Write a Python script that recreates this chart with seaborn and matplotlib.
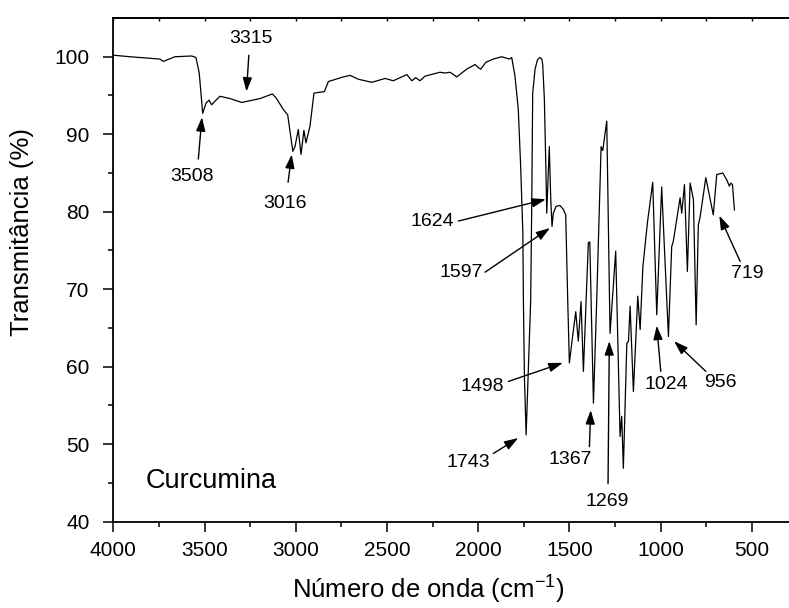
import numpy as np
import pandas as pd
import matplotlib
matplotlib.use("Agg")
import matplotlib.pyplot as plt
import seaborn as sns

# espectro FTIR da curcumina
numero_onda = [4000, 3908, 3744, 3726, 3662, 3570, 3547, 3529, 3510, 3492,
               3475, 3461, 3437, 3415, 3360, 3296, 3196, 3128, 3108, 3068,
               3044, 3016, 3004, 2986, 2971, 2955, 2944, 2922, 2900, 2876,
               2843, 2821, 2739, 2702, 2657, 2583, 2510, 2465, 2391, 2364,
               2342, 2319, 2291, 2209, 2181, 2154, 2117, 2063, 2017, 1999,
               1986, 1957, 1917, 1871, 1829, 1816, 1798, 1780, 1767, 1755,
               1752, 1746, 1737, 1712, 1706, 1701, 1688, 1675, 1661, 1651,
               1646, 1637, 1629, 1624, 1610, 1602, 1595, 1588, 1573, 1551,
               1533, 1520, 1509, 1500, 1487, 1465, 1451, 1436, 1423, 1396,
               1388, 1368, 1350, 1326, 1317, 1295, 1277, 1246, 1222, 1213,
               1204, 1185, 1176, 1167, 1149, 1125, 1112, 1097, 1072, 1043,
               1021, 994, 957, 939, 930, 893, 884, 869, 853, 838,
               820, 805, 793, 784, 752, 733, 711, 692, 659, 637,
               623, 615, 606, 595]
transmitancia = [100.2, 100.0, 99.7, 99.4, 100.0, 100.1, 99.9, 97.9, 92.7, 94.0,
                 94.4, 93.8, 94.4, 94.9, 94.6, 94.1, 94.6, 95.2, 94.7, 93.2,
                 92.5, 87.8, 88.4, 90.6, 87.4, 90.5, 88.9, 91.0, 95.3, 95.4,
                 95.5, 96.8, 97.4, 97.6, 97.1, 96.7, 97.2, 96.9, 97.7, 96.9,
                 97.3, 96.9, 97.5, 98.0, 97.9, 98.0, 97.4, 98.4, 99.0, 98.6,
                 98.4, 99.3, 99.7, 100.0, 99.7, 99.9, 97.5, 93.2, 85.9, 77.3,
                 68.6, 58.3, 51.2, 68.6, 81.5, 95.3, 98.4, 99.6, 99.9, 99.7,
                 99.0, 94.5, 85.9, 79.8, 88.4, 81.6, 78.1, 79.8, 80.7, 80.8,
                 80.3, 79.6, 68.6, 60.5, 63.0, 67.1, 63.3, 68.4, 59.4, 76.0,
                 76.1, 55.3, 68.6, 88.4, 87.9, 91.7, 64.3, 74.9, 51.0, 53.6,
                 46.9, 63.0, 63.3, 67.8, 56.8, 69.1, 64.8, 72.9, 78.6, 83.8,
                 66.7, 83.2, 63.9, 75.5, 76.2, 81.8, 79.8, 83.5, 72.3, 83.7,
                 81.6, 65.4, 78.3, 79.2, 84.4, 82.2, 79.6, 84.8, 85.0, 84.1,
                 83.3, 83.7, 83.5, 80.2]

# rotulos dos picos: texto, posicao do texto, inicio e ponta da seta
picos = ["3315", "3508", "3016", "1624", "1597", "1498", "1743", "1367",
         "1269", "1024", "956", "719"]
pos_texto = [(3246, 102.4), (3570, 84.6), (3058, 81.1), (2254, 78.8),
             (2094, 72.1), (1980, 57.5), (2053, 47.6), (1496, 48.0),
             (1295, 42.6), (970, 57.7), (674, 57.9), (527, 72.0)]
seta_inicio = [(3257, 100.2), (3534, 86.8), (3042, 83.8), (2108, 78.8),
               (1962, 72.2), (1834, 58.1), (1917, 48.8), (1390, 49.7),
               (1288, 44.9), (999, 59.4), (752, 59.4), (564, 73.6)]
seta_ponta = [(3270, 95.5), (3514, 92.2), (3022, 87.4), (1629, 81.6),
              (1606, 77.9), (1536, 60.5), (1780, 50.8), (1383, 54.4),
              (1281, 63.3), (1021, 65.3), (926, 63.3), (678, 79.5)]

df = pd.DataFrame({"numero_onda": numero_onda, "transmitancia": transmitancia})

sns.set_style("ticks")
plt.rcParams["font.family"] = ["Liberation Sans", "DejaVu Sans"]
plt.rcParams["mathtext.fontset"] = "custom"
plt.rcParams["mathtext.rm"] = "Liberation Sans"
plt.rcParams["mathtext.it"] = "Liberation Sans"
for k in ["text.color", "axes.labelcolor", "xtick.color", "ytick.color"]:
    plt.rcParams[k] = "black"

fig = plt.figure(figsize=(7.89, 6.08), dpi=100)
ax = fig.add_axes([113.3 / 789, 86.3 / 608, 1 - 113.3 / 789, 503.7 / 608])

sns.lineplot(data=df, x="numero_onda", y="transmitancia", sort=False,
             estimator=None, color="black", linewidth=0.9, ax=ax)

major_x = [4000, 3500, 3000, 2500, 2000, 1500, 1000, 500]
minor_x = np.arange(3750, 296, -500)
ax.set_xlim(4000, 296)
ax.set_ylim(40, 105)
ax.set_xticks(major_x)
ax.set_xticks(minor_x, minor=True)
ax.set_yticks([40, 50, 60, 70, 80, 90, 100])
ax.set_yticks(np.arange(45, 105, 10), minor=True)

ax.spines["right"].set_visible(False)
for s in ["left", "bottom", "top"]:
    ax.spines[s].set_linewidth(1.3)
    ax.spines[s].set_color("black")

ax.tick_params(axis="both", which="major", direction="out", length=7,
               width=1.1, labelsize=15)
ax.tick_params(axis="both", which="minor", direction="out", length=3.8,
               width=1.1)
ax.tick_params(axis="x", which="both", pad=7)
ax.tick_params(axis="y", which="both", pad=10)

# pequenos ticks para dentro no eixo superior
topo = ax.secondary_xaxis("top")
topo.set_xticks(list(major_x) + list(minor_x))
topo.tick_params(direction="in", length=2.5, width=1, labeltop=False)
topo.spines["top"].set_linewidth(1.3)

ax.set_xlabel("Número de onda (cm$^{-1}$)", fontsize=18.5, labelpad=10)
ax.set_ylabel("Transmitância (%)", fontsize=18.5, labelpad=15)
ax.xaxis.label.set_x(0.4657)
ax.yaxis.label.set_y(0.575)

for rotulo, txt, ini, ponta in zip(picos, pos_texto, seta_inicio, seta_ponta):
    ax.text(txt[0], txt[1], rotulo, ha="center", va="center", fontsize=14)
    ax.annotate("", xy=ponta, xytext=ini,
                arrowprops=dict(arrowstyle="-|>,head_length=0.6,head_width=0.2",
                                color="black", lw=1, mutation_scale=14,
                                shrinkA=0, shrinkB=0))

ax.text(3822, 44.3, "Curcumina", ha="left", va="baseline", fontsize=19.5)

fig.savefig("out.png", dpi=100)
